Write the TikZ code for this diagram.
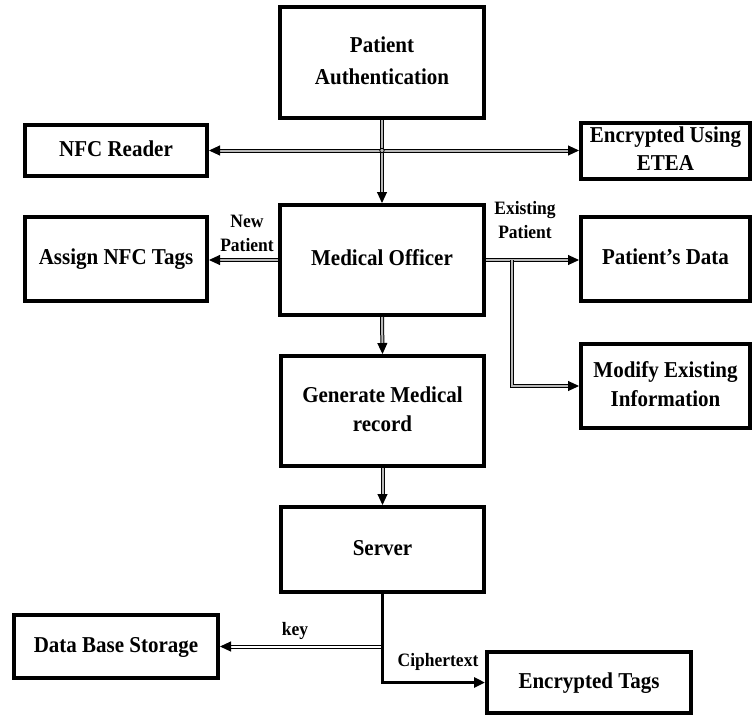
\documentclass[tikz,border=0pt]{standalone}
\usepackage{graphicx}
\usepackage{fontspec}
\setmainfont{Liberation Serif}
\usetikzlibrary{arrows.meta}
% text set slightly taller than wide
\newcommand\tallt[1]{\scalebox{1}[1.08]{\begin{tabular}{@{}c@{}}#1\end{tabular}}}
\begin{document}
\begin{tikzpicture}[x=1pt,y=-1pt,
  box/.style={draw, line width=4pt, rectangle, align=center, inner sep=0pt,
    font=\fontsize{21}{27}\selectfont\bfseries},
  lbl/.style={align=center, inner sep=0pt,
    font=\fontsize{17.5}{22}\selectfont\bfseries},
  pipe/.style={draw=black, line width=1pt, double=gray!55, double distance=2pt},
  tipend/.style={-{Triangle[length=11pt,width=10pt]}},
  tipboth/.style={{Triangle[length=11pt,width=10pt]}-{Triangle[length=11pt,width=10pt]}},
  solidlink/.style={draw=black, line width=3pt}
]
\useasboundingbox (0,0) rectangle (755,718);

% boxes
\node[box, minimum width=204, minimum height=111] (auth)   at (382,62.5)   {\tallt{Patient\\[3pt]Authentication}};
\node[box, minimum width=182, minimum height=51]  (nfc)    at (116,150.5)  {\tallt{NFC Reader}};
\node[box, minimum width=169, minimum height=51,
      font=\fontsize{21}{26}\selectfont\bfseries] (etea) at (665.5,151) {\tallt{Encrypted Using\\ETEA}};
\node[box, minimum width=182, minimum height=84]  (assign) at (116,259)    {\tallt{Assign NFC Tags}};
\node[box, minimum width=204, minimum height=110] (mo)     at (382,260)    {\tallt{Medical Officer}};
\node[box, minimum width=169, minimum height=84]  (pd)     at (665.5,259)  {\tallt{Patient’s Data}};
\node[box, minimum width=169, minimum height=84]  (modify) at (665.5,386)  {\tallt{Modify Existing\\Information}};
\node[box, minimum width=203, minimum height=110] (gen)    at (382.5,411)  {\tallt{Generate Medical\\record}};
\node[box, minimum width=203, minimum height=85]  (server) at (382.5,549.5){\tallt{Server}};
\node[box, minimum width=204, minimum height=63]  (db)     at (116,646.5)  {\tallt{Data Base Storage}};
\node[box, minimum width=204, minimum height=61]  (et)     at (589,682.5)  {\tallt{Encrypted Tags}};

% labels
\node[lbl] (newp)  at (247,235) {\tallt{New\\Patient}};
\node[lbl] (exist) at (525,222) {\tallt{Existing\\Patient}};
\node[lbl] (key)   at (295,631) {\tallt{key}};
\node[lbl] (ciph)  at (438,662) {\tallt{Ciphertext}};

% authentication links
\draw[pipe, tipboth] (nfc.east) -- (etea.west |- nfc.east);
\draw[pipe, tipend] (auth.south) -- (mo.north);
\coordinate (j) at (auth.south |- nfc.east);
\draw[line width=0.8pt, fill=gray!55] (j) circle (2.2);

% medical officer links
\draw[pipe, tipend] (mo.west) -- (mo.west -| assign.east);
\draw[pipe, tipend] (mo.east) -- (mo.east -| pd.west);
\coordinate (br) at (512,260);
\draw[pipe, tipend] (br) |- (modify.west);
\draw[pipe, tipend] (mo.south) -- (gen.north);
\draw[pipe, tipend] (gen.south) -- (server.north);

% server outputs
\coordinate (k) at (server.south |- db.east);
\draw[pipe, double=white, tipend] (k) -- (db.east);
\draw[solidlink, tipend] (server.south) |- (et.west);
\end{tikzpicture}
\end{document}
